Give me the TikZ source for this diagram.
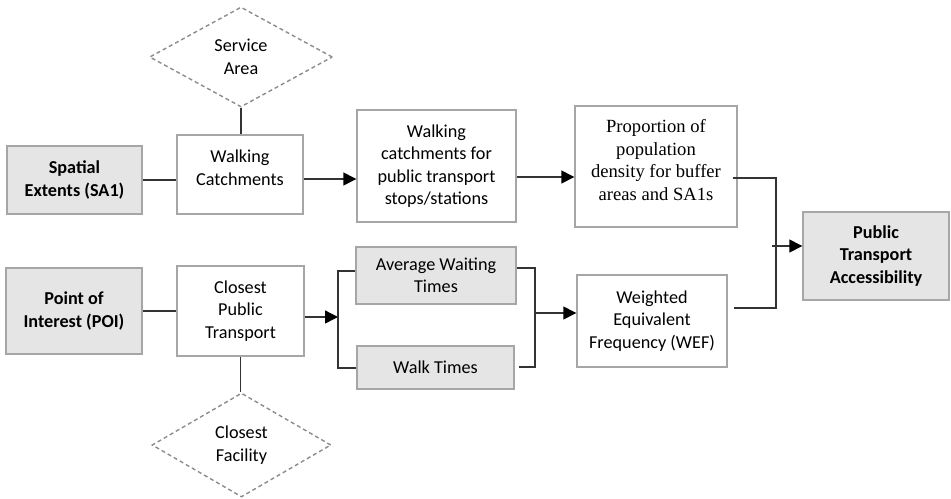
\documentclass[tikz,border=0pt]{standalone}
\usepackage{fontspec}
\setmainfont{Carlito}
\newfontfamily\timesfont{Liberation Serif}
\usetikzlibrary{shapes.geometric,arrows.meta}

\tikzset{
    box/.style={draw=gray!70, line width=0.7pt, align=center, inner sep=0pt,
        font=\fontsize{9.1}{11.2}\selectfont},
    greybox/.style={box, fill=gray!20, font=\fontsize{9.1}{11.2}\selectfont\bfseries},
    zone/.style={diamond, draw=gray!90, dash pattern=on 2pt off 1.5pt, line width=0.7pt,
        align=center, inner sep=0pt, font=\fontsize{9.1}{11.2}\selectfont},
    link/.style={draw=black!80, line width=0.7pt},
    arr/.style={link, -{Triangle[length=6.5pt,width=6.5pt,color=black]}},
}

\begin{document}
\begin{tikzpicture}[x=0.5pt,y=-0.5pt]
    \useasboundingbox (0,0) rectangle (951,498);

    % upper row
    \node[zone, minimum width=91.5pt, minimum height=50pt] (sarea) at (241,57) {Service\\Area};
    \node[greybox, minimum width=67.5pt, minimum height=34pt] (sa1) at (74.5,180) {Spatial\\Extents (SA1)};
    \node[box, minimum width=63pt, minimum height=39.5pt, text depth=7pt] (wc) at (240,174.5)
        {Walking\\Catchments};
    \node[box, minimum width=79.5pt, minimum height=56pt] (wcs) at (436.5,166)
        {Walking\\catchments for\\public transport\\stops/stations};
    \node[box, minimum width=81pt, minimum height=60.5pt, text depth=6.5pt,
        font=\fontsize{9.3}{11.4}\timesfont] (prop) at (656,166.5)
        {Proportion of\\population\\density for buffer\\areas and SA1s};

    % lower row
    \node[greybox, minimum width=68pt, minimum height=43pt] (poi) at (74,311) {Point of\\Interest (POI)};
    \node[box, minimum width=63.5pt, minimum height=45pt] (cpt) at (240.5,311) {Closest\\Public\\Transport};
    \node[zone, minimum width=89.5pt, minimum height=52pt] (cfac) at (241.5,445) {Closest\\Facility};
    \node[greybox, font=\fontsize{9.1}{11.2}\selectfont, minimum width=80pt, minimum height=28.5pt]
        (awt) at (436,275.5) {Average Waiting\\Times};
    \node[greybox, font=\fontsize{9.1}{11.2}\selectfont, minimum width=78.5pt, minimum height=21.5pt]
        (walk) at (435.5,367.5) {Walk Times};
    \node[box, minimum width=75pt, minimum height=46pt] (wef) at (652,321)
        {Weighted\\Equivalent\\Frequency (WEF)};

    % result
    \node[greybox, minimum width=73pt, minimum height=44pt] (pta) at (876,256)
        {Public\\Transport\\Accessibility};

    % links of the upper row
    \draw[link] (sarea.south) -- (sarea.south |- wc.north);
    \draw[link] (sa1.east) -- (sa1.east -| wc.west);
    \draw[arr] (wc.east |- 0,179) -- (wcs.west |- 0,179);
    \draw[arr] (wcs.east |- 0,177) -- (prop.west |- 0,177);

    % links of the lower row
    \draw[link] (poi.east) -- (poi.east -| cpt.west);
    \draw[link] (cpt.south) -- (cpt.south |- cfac.north);
    \coordinate (split) at (338,317);
    \draw[arr] (cpt.east |- split) -- (split);
    \draw[link] (awt.west |- 0,271) -| (split) |- (walk.west |- 0,368);
    \coordinate (merge) at (535,313);
    \draw[link] (awt.east |- 0,268) -| (merge) |- ([xshift=2pt]walk.east |- 0,367);
    \draw[arr] (merge) -- (merge -| wef.west);

    % both branches join
    \coordinate (join) at (776,246);
    \draw[link] ([xshift=-2.5pt]prop.east |- 0,178) -| (join) |- ([xshift=3pt]wef.east |- 0,308);
    \draw[arr] ([xshift=-2pt]join) -- (join -| pta.west);
\end{tikzpicture}
\end{document}
